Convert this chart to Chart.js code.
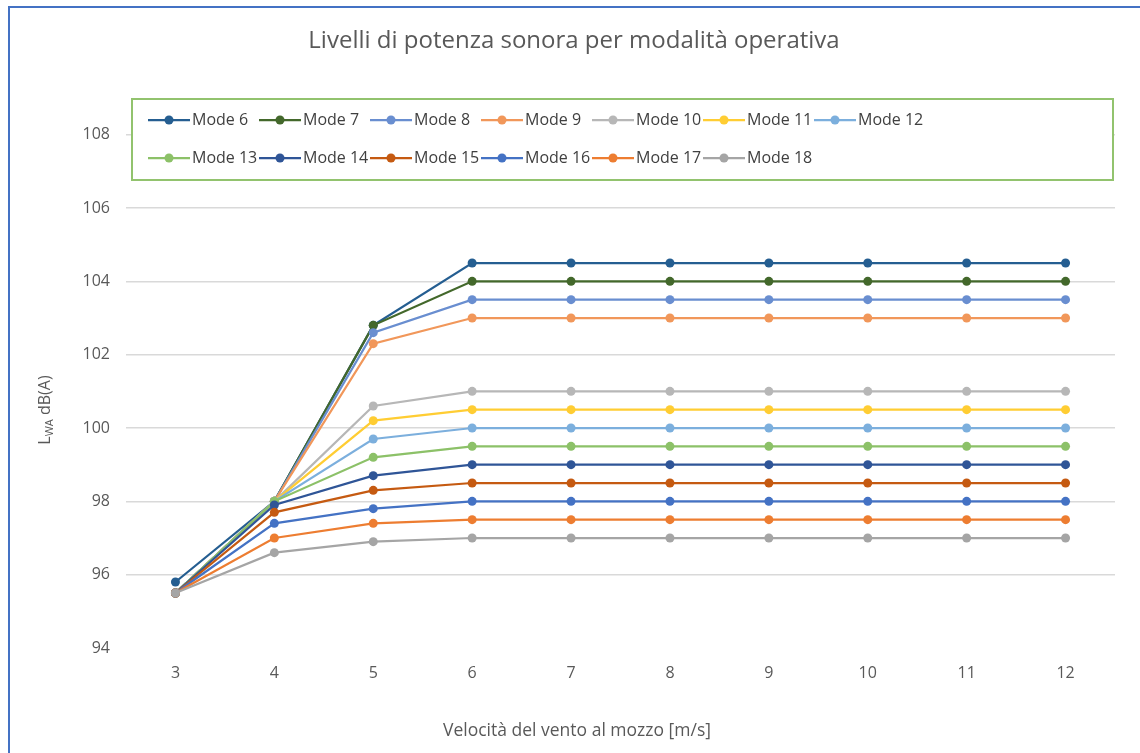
<!DOCTYPE html>
<html>
<head>
<meta charset="utf-8">
<script src="https://cdn.jsdelivr.net/npm/chart.js@4/dist/chart.umd.min.js"></script>
<style>
  html, body { margin: 0; padding: 0; background: #fff; }
  #wrap { position: relative; width: 1140px; height: 753px; }
  #frame { position: absolute; left: 8px; top: 6px; right: -10px; bottom: -10px;
           border-left: 2px solid #4472C4; border-top: 2px solid #4472C4; pointer-events: none; }
</style>
</head>
<body>
<div id="wrap">
  <canvas id="myChart" width="1140" height="753"></canvas>
  <div id="frame"></div>
</div>
<script>
var windSpeeds = ['3', '4', '5', '6', '7', '8', '9', '10', '11', '12'];
var yTicks = [94, 96, 98, 100, 102, 104, 106, 108];

var mode6  = [95.8, 98.0, 102.8, 104.5, 104.5, 104.5, 104.5, 104.5, 104.5, 104.5];
var mode7  = [95.5, 98.0, 102.8, 104.0, 104.0, 104.0, 104.0, 104.0, 104.0, 104.0];
var mode8  = [95.5, 98.0, 102.6, 103.5, 103.5, 103.5, 103.5, 103.5, 103.5, 103.5];
var mode9  = [95.5, 98.0, 102.3, 103.0, 103.0, 103.0, 103.0, 103.0, 103.0, 103.0];
var mode10 = [95.5, 98.0, 100.6, 101.0, 101.0, 101.0, 101.0, 101.0, 101.0, 101.0];
var mode11 = [95.5, 98.0, 100.2, 100.5, 100.5, 100.5, 100.5, 100.5, 100.5, 100.5];
var mode12 = [95.5, 98.0, 99.7, 100.0, 100.0, 100.0, 100.0, 100.0, 100.0, 100.0];
var mode13 = [95.5, 98.0, 99.2, 99.5, 99.5, 99.5, 99.5, 99.5, 99.5, 99.5];
var mode14 = [95.5, 97.9, 98.7, 99.0, 99.0, 99.0, 99.0, 99.0, 99.0, 99.0];
var mode15 = [95.5, 97.7, 98.3, 98.5, 98.5, 98.5, 98.5, 98.5, 98.5, 98.5];
var mode16 = [95.5, 97.4, 97.8, 98.0, 98.0, 98.0, 98.0, 98.0, 98.0, 98.0];
var mode17 = [95.5, 97.0, 97.4, 97.5, 97.5, 97.5, 97.5, 97.5, 97.5, 97.5];
var mode18 = [95.5, 96.6, 96.9, 97.0, 97.0, 97.0, 97.0, 97.0, 97.0, 97.0];

var modeNames = ['Mode 6', 'Mode 7', 'Mode 8', 'Mode 9', 'Mode 10', 'Mode 11', 'Mode 12',
                 'Mode 13', 'Mode 14', 'Mode 15', 'Mode 16', 'Mode 17', 'Mode 18'];
var modeValues = [mode6, mode7, mode8, mode9, mode10, mode11, mode12,
                  mode13, mode14, mode15, mode16, mode17, mode18];
var modeColors = ['#255E91', '#43682B', '#698ED0', '#F1975A', '#B7B7B7', '#FFCD33', '#7CAFDD',
                  '#8CC168', '#2F5597', '#C55A11', '#4472C4', '#ED7D31', '#A5A5A5'];

var FONT = '"Open Sans", sans-serif';

var datasets = modeNames.map(function (name, i) {
  return {
    label: name,
    data: modeValues[i],
    borderColor: modeColors[i],
    backgroundColor: modeColors[i],
    borderWidth: 2.25,
    pointRadius: 4.5,
    pointHoverRadius: 4.5,
    pointBorderWidth: 0,
    tension: 0,
    order: modeNames.length - i
  };
});

// title, y title with subscript, boxed legend
var decorations = {
  id: 'decorations',
  afterDraw: function (chart) {
    var ctx = chart.ctx;
    ctx.save();

    // title
    ctx.fillStyle = '#595959';
    ctx.font = '24px ' + FONT;
    ctx.textAlign = 'center';
    ctx.textBaseline = 'middle';
    ctx.fillText('Livelli di potenza sonora per modalità operativa', 574, 41);

    // x title
    ctx.font = '17.5px ' + FONT;
    ctx.fillText('Velocità del vento al mozzo [m/s]', 577, 731);

    // y title: L_WA dB(A)
    ctx.translate(44, 410);
    ctx.rotate(-Math.PI / 2);
    ctx.textAlign = 'left';
    ctx.textBaseline = 'alphabetic';
    ctx.font = '16px ' + FONT;
    var wL = ctx.measureText('L').width;
    var wRest = ctx.measureText(' dB(A)').width;
    ctx.font = '11px ' + FONT;
    var wSub = ctx.measureText('WA').width;
    var x0 = -(wL + wSub + wRest) / 2;
    ctx.font = '16px ' + FONT;
    ctx.fillText('L', x0, 6);
    ctx.font = '11px ' + FONT;
    ctx.fillText('WA', x0 + wL, 9);
    ctx.font = '16px ' + FONT;
    ctx.fillText(' dB(A)', x0 + wL + wSub, 6);
    ctx.setTransform(1, 0, 0, 1, 0, 0);

    // legend box
    ctx.fillStyle = '#ffffff';
    ctx.fillRect(132, 99, 981, 81);
    ctx.strokeStyle = '#92C36E';
    ctx.lineWidth = 2;
    ctx.strokeRect(132, 99, 981, 81);

    ctx.font = '16px ' + FONT;
    ctx.textAlign = 'left';
    ctx.textBaseline = 'middle';
    modeNames.forEach(function (name, i) {
      var col = i % 7, row = Math.floor(i / 7);
      var x = 148 + col * 111;
      var y = 120 + row * 38;
      ctx.strokeStyle = modeColors[i];
      ctx.lineWidth = 2.25;
      ctx.beginPath();
      ctx.moveTo(x, y);
      ctx.lineTo(x + 42, y);
      ctx.stroke();
      ctx.fillStyle = modeColors[i];
      ctx.beginPath();
      ctx.arc(x + 21, y, 4.5, 0, Math.PI * 2);
      ctx.fill();
      ctx.fillStyle = '#404040';
      ctx.fillText(name, x + 44, y);
    });
    ctx.restore();
  }
};

new Chart(document.getElementById('myChart'), {
  type: 'line',
  data: { labels: windSpeeds, datasets: datasets },
  plugins: [decorations],
  options: {
    responsive: false,
    animation: false,
    layout: { padding: { left: 0, right: 25, top: 98, bottom: 0 } },
    plugins: {
      legend: { display: false },
      title: { display: false },
      tooltip: { enabled: false }
    },
    scales: {
      x: {
        offset: true,
        grid: { display: false },
        border: { display: false },
        ticks: { color: '#595959', font: { size: 16, family: FONT }, padding: 8, maxRotation: 0 },
        afterFit: function (scale) { scale.height = 105; }
      },
      y: {
        min: 94,
        max: 109,
        border: { display: false },
        grid: {
          drawTicks: false,
          lineWidth: 1.5,
          color: function (c) { return c.tick && c.tick.value === 94 ? 'rgba(0,0,0,0)' : '#D9D9D9'; }
        },
        afterBuildTicks: function (scale) {
          scale.ticks = yTicks.map(function (v) { return { value: v }; });
        },
        ticks: { color: '#595959', font: { size: 16, family: FONT }, padding: 16 },
        afterFit: function (scale) { scale.width = 126; }
      }
    }
  }
});
</script>
</body>
</html>
